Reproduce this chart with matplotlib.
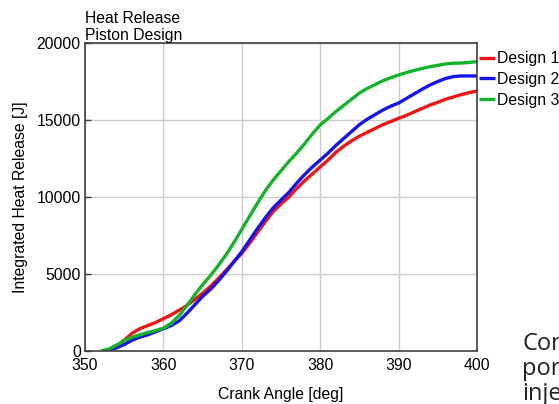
import numpy as np
import matplotlib
matplotlib.use("Agg")
from matplotlib import pyplot as plt

# crank angle [deg] and integrated heat release [J]
angle = [352, 353, 354, 355, 356, 357, 358, 359, 360, 361, 362, 363, 364, 365,
         366, 367, 368, 369, 370, 371, 372, 373, 374, 375, 376, 377, 378, 379,
         380, 381, 382, 383, 384, 385, 386, 387, 388, 389, 390, 391, 392, 393,
         394, 395, 396, 397, 398, 399, 400]

design1 = [-100, 50, 300, 700, 1150, 1450, 1650, 1850, 2100, 2350, 2650, 2950,
           3350, 3750, 4200, 4700, 5250, 5800, 6350, 7000, 7700, 8400, 9050,
           9550, 10000, 10550, 11050, 11500, 11950, 12400, 12900, 13300, 13650,
           13950, 14200, 14450, 14700, 14900, 15110, 15300, 15530, 15750, 15970,
           16150, 16350, 16500, 16650, 16780, 16880]

design2 = [-150, 30, 200, 420, 700, 900, 1050, 1250, 1450, 1650, 1950, 2450,
           3000, 3550, 4000, 4550, 5150, 5800, 6450, 7200, 7950, 8650, 9300,
           9800, 10300, 10900, 11450, 11950, 12400, 12850, 13350, 13800, 14250,
           14700, 15050, 15350, 15650, 15900, 16100, 16400, 16700, 17000, 17270,
           17500, 17700, 17820, 17860, 17860, 17860]

design3 = [0, 120, 380, 680, 900, 1050, 1200, 1330, 1480, 1800, 2300, 2950,
           3650, 4300, 4900, 5550, 6250, 7050, 7900, 8750, 9600, 10400, 11100,
           11700, 12300, 12850, 13450, 14100, 14680, 15100, 15550, 15950, 16350,
           16750, 17050, 17300, 17550, 17750, 17920, 18080, 18220, 18350, 18460,
           18550, 18640, 18690, 18700, 18740, 18790]

labels = ['Design 1', 'Design 2', 'Design 3']
colors = ['#f01414', '#1414f0', '#14b428']

plt.rcParams['font.family'] = ['Liberation Sans', 'DejaVu Sans']
fs = 11.3

fig = plt.figure(figsize=(5.59, 4.04), dpi=100)
ax = fig.add_axes([85/559, 1-351/404, 392/559, 308/404])

for y, lab, c in zip([design1, design2, design3], labels, colors):
    ax.plot(angle, y, color=c, lw=2.4, label=lab, solid_capstyle='butt')

ax.set_xlim(350, 400)
ax.set_ylim(0, 20000)
ax.set_xticks(np.arange(350, 401, 10))
ax.set_yticks(np.arange(0, 20001, 5000))
ax.grid(True, color='#cccccc', lw=1)
ax.set_axisbelow(True)
ax.tick_params(axis='y', direction='in', length=4, width=1, color='#404040',
               labelsize=fs, pad=3)
ax.tick_params(axis='x', length=0, labelsize=fs, pad=5)
for s in ax.spines.values():
    s.set_color('#404040')
    s.set_linewidth(1.2)

ax.set_xlabel('Crank Angle [deg]', fontsize=fs, labelpad=10)
ax.set_ylabel('Integrated Heat Release [J]', fontsize=fs, labelpad=6)
ax.set_title('Heat Release\nPiston Design', loc='left', fontsize=fs,
             pad=1, linespacing=1.15)

ax.legend(loc='upper left', bbox_to_anchor=(0.994, 0.986), frameon=False,
          handlelength=1.05, handletextpad=0.15, labelspacing=0.36,
          borderpad=0.0, borderaxespad=0.25, fontsize=fs)

for i, w in enumerate(['Con', 'por', 'inje']):
    fig.text(522/559, 1-(332 + i*25)/404, w, fontsize=17, family='Open Sans',
             va='top', ha='left', color='#222222')

fig.savefig('out.png', dpi=100)
